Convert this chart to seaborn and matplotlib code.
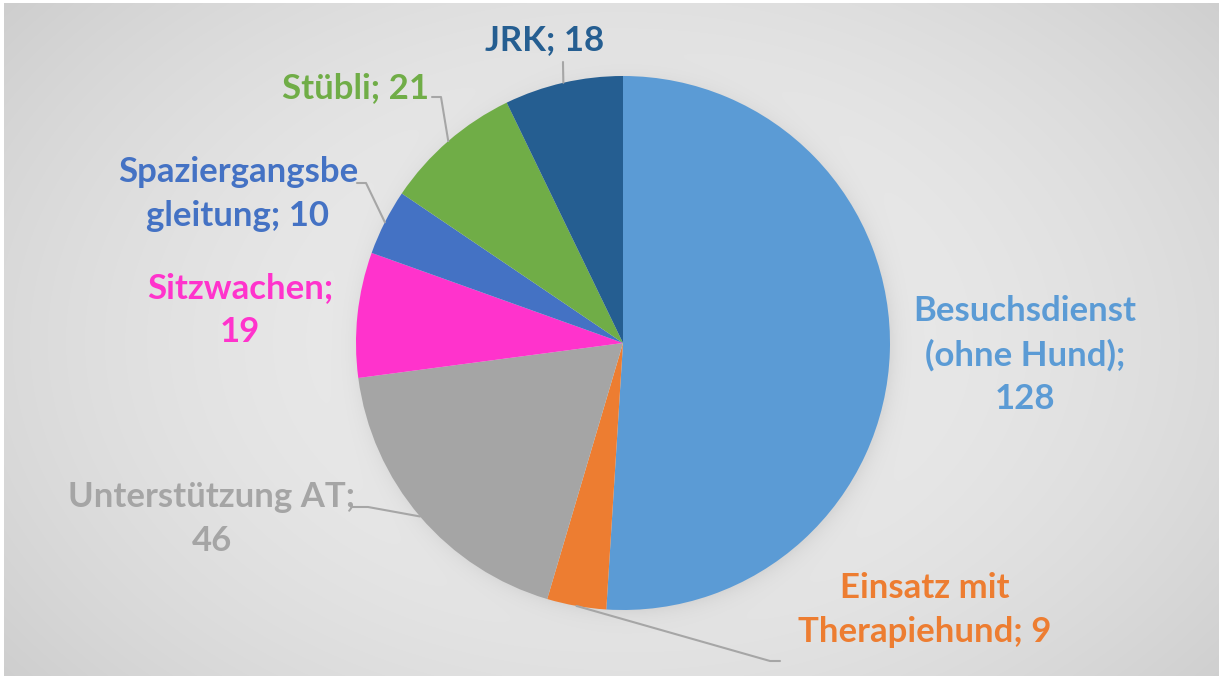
import numpy as np
import matplotlib.pyplot as plt
import seaborn as sns

# Data
categories = ["Besuchsdienst\n(ohne Hund);\n128", "Einsatz mit\nTherapiehund; 9", "Unterstützung AT;\n46",
              "Sitzwachen;\n19", "Spaziergangsbe\ngleitung; 10", "Stübli; 21", "JRK; 18"]
values = [128, 9, 46, 19, 10, 21, 18]
colors = ["#5B9BD5", "#ED7D31", "#A5A5A5", "#FF33CC", "#4472C4", "#70AD47", "#255E91"]

# Layout in pixel units (y measured from top)
W, H = 1224, 683
cx, cy, R = 623, 343, 267
label_pos = [(1025, 355), (925, 610), (212, 519), (240, 310), (238, 194), (355, 88), (545, 40)]
# elbow points for leader lines (None = no leader)
elbows = [None, [(780, 661), (770, 661)], [(352, 507), (368, 507)], None,
          [(357, 183), (366, 183)], [(432, 97), (441, 97)], [(563, 62), (563, 64)]]

sns.set_theme(style="white")
plt.rcParams["font.family"] = ["Lato", "DejaVu Sans"]

fig = plt.figure(figsize=(W / 100, H / 100), dpi=100)
fig.patch.set_facecolor("white")
ax = fig.add_axes([0, 0, 1, 1])
ax.set_xlim(0, W)
ax.set_ylim(0, H)
ax.set_aspect("equal")
ax.axis("off")

# radial gradient background with soft shadow around the pie
yy, xx = np.mgrid[0:H, 0:W]
d = np.sqrt(((xx - cx) / (W * 0.6)) ** 2 + ((yy - cy) / (H * 0.75)) ** 2)
bg = 0.925 - 0.10 * d ** 2
ds = np.sqrt((xx - cx - 3) ** 2 + (yy - cy - 5) ** 2) - R
bg = bg - 0.06 * np.exp(-np.clip(ds, 0, None) / 10.0) * (ds > -5)
bg = np.clip(bg, 0, 1)
ax.imshow(np.dstack([bg, bg, bg]), extent=(4, W - 5, H - 676, H - 3), origin="upper", zorder=0)

wedges, _ = ax.pie(values, colors=colors, startangle=90, counterclock=False,
                   center=(cx, H - cy), radius=R, wedgeprops=dict(linewidth=0))
ax.set_xlim(0, W)
ax.set_ylim(0, H)

for w, lab, col, (lx, ly), el in zip(wedges, categories, colors, label_pos, elbows):
    ax.text(lx, H - ly, lab, ha="center", va="center", color=col, fontsize=25,
            fontweight="bold", linespacing=1.43, zorder=5)
    if el is not None:
        ang = np.deg2rad((w.theta1 + w.theta2) / 2)
        px = cx + R * np.cos(ang)
        py = (H - cy) + R * np.sin(ang)
        xs = [el[0][0], el[1][0], px]
        ys = [H - el[0][1], H - el[1][1], py]
        ax.plot(xs, ys, color="#A6A6A6", lw=1.5, zorder=4)

fig.savefig("out.png", dpi=100)
